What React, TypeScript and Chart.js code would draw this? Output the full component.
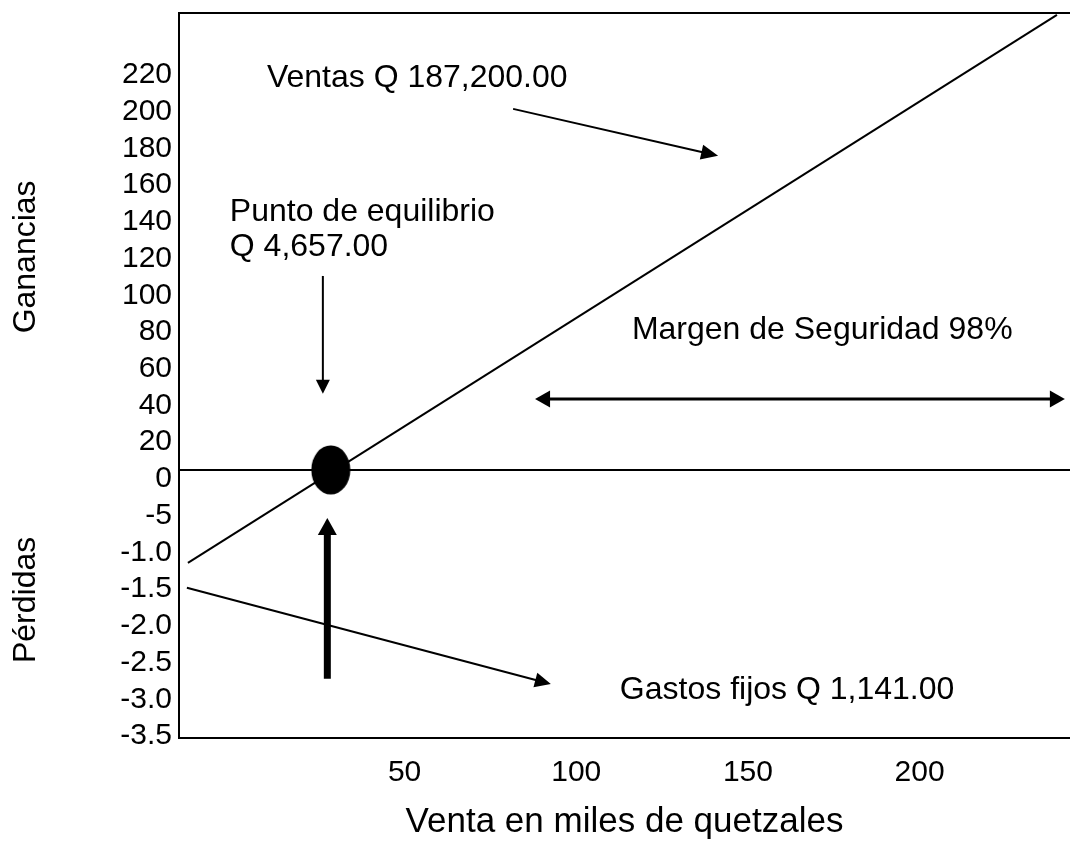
import React, { useEffect, useRef } from "react";
import { Chart, registerables } from "chart.js";

Chart.register(...registerables);

// ---- Data (axis units: x = miles de quetzales, y = index of the y tick label) ----
const yTickLabels = [
  "-3.5", "-3.0", "-2.5", "-2.0", "-1.5", "-1.0", "-5", "0",
  "20", "40", "60", "80", "100", "120", "140", "160", "180", "200", "220",
];
const xTickValues = [50, 100, 150, 200];
const xRange = [-15.7, 243.8];
const yRange = [-0.3, 19.44];

const salesLine = [
  { x: -13.1, y: 4.47 },
  { x: 240.0, y: 19.39 },
];
const zeroLine = [
  { x: -15.7, y: 7 },
  { x: 243.8, y: 7 },
];
const breakEvenPoint = [{ x: 28.5, y: 7 }];

const ventasArrow = [
  { x: 81.6, y: 16.83 },
  { x: 141.3, y: 15.55 },
];
const gastosArrow = [
  { x: -13.4, y: 3.79 },
  { x: 92.6, y: 1.17 },
];
const equilibrioDownArrow = [
  { x: 26.2, y: 12.28 },
  { x: 26.2, y: 9.07 },
];
const equilibrioUpArrow = [
  { x: 27.5, y: 1.31 },
  { x: 27.5, y: 5.69 },
];
const margenArrow = [
  { x: 88.0, y: 8.93 },
  { x: 242.3, y: 8.93 },
];

const noteTexts = [
  "Ventas Q 187,200.00",
  "Punto de equilibrio",
  "Q 4,657.00",
  "Margen de Seguridad 98%",
  "Gastos fijos Q 1,141.00",
];
const noteAnchors = [
  { x: 9.9, y: 17.67 },
  { x: -0.9, y: 14.03 },
  { x: -0.9, y: 13.07 },
  { x: 116.2, y: 10.81 },
  { x: 112.7, y: 1.01 },
];
const sideTitles = ["Ganancias", "Pérdidas"];
const sideTitleY = [12.8, 3.46];
const xTitle = "Venta en miles de quetzales";

const FONT = '"Liberation Sans", Arial, Helvetica, sans-serif';

const arrowPlugin = {
  id: "arrowPlugin",
  afterDatasetsDraw(chart: any) {
    const ctx = chart.ctx;
    chart.data.datasets.forEach((ds: any, i: number) => {
      if (!ds.arrow) return;
      const pts = chart.getDatasetMeta(i).data;
      if (!pts || pts.length < 2) return;
      const a = { x: pts[0].x, y: pts[0].y };
      const b = { x: pts[1].x, y: pts[1].y };
      const { width, len, half, start, end } = ds.arrow;
      const dx = b.x - a.x;
      const dy = b.y - a.y;
      const d = Math.hypot(dx, dy) || 1;
      const ux = dx / d;
      const uy = dy / d;
      const s = start ? { x: a.x + ux * len * 0.8, y: a.y + uy * len * 0.8 } : a;
      const e = end ? { x: b.x - ux * len * 0.8, y: b.y - uy * len * 0.8 } : b;
      ctx.save();
      ctx.strokeStyle = "#000";
      ctx.fillStyle = "#000";
      ctx.lineWidth = width;
      ctx.lineCap = "butt";
      ctx.beginPath();
      ctx.moveTo(s.x, s.y);
      ctx.lineTo(e.x, e.y);
      ctx.stroke();
      const head = (tip: any, vx: number, vy: number) => {
        ctx.beginPath();
        ctx.moveTo(tip.x, tip.y);
        ctx.lineTo(tip.x - vx * len - vy * half, tip.y - vy * len + vx * half);
        ctx.lineTo(tip.x - vx * len + vy * half, tip.y - vy * len - vx * half);
        ctx.closePath();
        ctx.fill();
      };
      if (end) head(b, ux, uy);
      if (start) head(a, -ux, -uy);
      ctx.restore();
    });
  },
};

const textPlugin = {
  id: "textPlugin",
  afterDraw(chart: any) {
    const { ctx, chartArea } = chart;
    const xs = chart.scales.x;
    const ys = chart.scales.y;
    ctx.save();
    // top frame line
    ctx.strokeStyle = "#000";
    ctx.lineWidth = 2;
    ctx.beginPath();
    ctx.moveTo(chartArea.left - 1, chartArea.top);
    ctx.lineTo(chartArea.right, chartArea.top);
    ctx.stroke();

    ctx.fillStyle = "#000";
    ctx.font = `32px ${FONT}`;
    ctx.textAlign = "left";
    ctx.textBaseline = "middle";
    noteTexts.forEach((t, i) => {
      ctx.fillText(t, xs.getPixelForValue(noteAnchors[i].x), ys.getPixelForValue(noteAnchors[i].y));
    });

    ctx.font = `32px ${FONT}`;
    ctx.textAlign = "center";
    sideTitles.forEach((t, i) => {
      ctx.save();
      ctx.translate(26, ys.getPixelForValue(sideTitleY[i]));
      ctx.rotate(-Math.PI / 2);
      ctx.fillText(t, 0, 0);
      ctx.restore();
    });
    ctx.restore();
  },
};

function makeEllipse(w: number, h: number) {
  const c = document.createElement("canvas");
  c.width = w;
  c.height = h;
  const g = c.getContext("2d")!;
  g.fillStyle = "#000";
  g.beginPath();
  g.ellipse(w / 2, h / 2, w / 2 - 0.5, h / 2 - 0.5, 0, 0, Math.PI * 2);
  g.fill();
  return c;
}

export default function App() {
  const canvasRef = useRef<HTMLCanvasElement | null>(null);

  useEffect(() => {
    if (!canvasRef.current) return;
    Chart.defaults.font.family = FONT;
    Chart.defaults.color = "#000";
    const ellipse = makeEllipse(40, 50);

    const lineDs = (data: any[], width: number) => ({
      data,
      showLine: true,
      borderColor: "#000",
      borderWidth: width,
      pointRadius: 0,
      fill: false,
    });
    const arrowDs = (data: any[], arrow: any) => ({
      data,
      showLine: false,
      pointRadius: 0,
      arrow,
    });

    const chart = new Chart(canvasRef.current, {
      type: "scatter",
      data: {
        datasets: [
          lineDs(zeroLine, 2),
          lineDs(salesLine, 2),
          arrowDs(ventasArrow, { width: 2, len: 17, half: 7.5, end: true }),
          arrowDs(gastosArrow, { width: 2, len: 16, half: 7.5, end: true }),
          arrowDs(equilibrioDownArrow, { width: 2, len: 14, half: 7, end: true }),
          arrowDs(equilibrioUpArrow, { width: 7, len: 17, half: 9.5, end: true }),
          arrowDs(margenArrow, { width: 3, len: 15, half: 8.5, start: true, end: true }),
          {
            data: breakEvenPoint,
            showLine: false,
            pointStyle: ellipse,
            pointRadius: 20,
            backgroundColor: "#000",
            borderColor: "#000",
            clip: false,
          },
        ] as any,
      },
      options: {
        animation: false,
        responsive: true,
        maintainAspectRatio: false,
        events: [],
        layout: { autoPadding: false, padding: { top: 13, left: 0, right: 0, bottom: 0 } },
        plugins: {
          legend: { display: false },
          tooltip: { enabled: false },
        },
        scales: {
          x: {
            type: "linear",
            min: xRange[0],
            max: xRange[1],
            afterBuildTicks: (s: any) => {
              s.ticks = xTickValues.map((v) => ({ value: v }));
            },
            afterFit: (s: any) => {
              s.height = 125;
              s.paddingLeft = 0;
              s.paddingRight = 0;
            },
            ticks: {
              autoSkip: false,
              maxRotation: 0,
              padding: 17,
              color: "#000",
              font: { size: 30 },
              callback: (v: any) => String(v),
            },
            grid: { display: false, drawTicks: false, tickLength: 0 },
            border: { display: true, color: "#000", width: 2 },
            title: {
              display: true,
              text: xTitle,
              color: "#000",
              font: { size: 35 },
              padding: { top: 0, bottom: 20 },
            },
          },
          y: {
            type: "linear",
            min: yRange[0],
            max: yRange[1],
            afterBuildTicks: (s: any) => {
              s.ticks = yTickLabels.map((_, i) => ({ value: i }));
            },
            afterFit: (s: any) => {
              s.width = 179;
              s.paddingTop = 0;
              s.paddingBottom = 0;
            },
            ticks: {
              autoSkip: false,
              padding: 7,
              labelOffset: 9,
              color: "#000",
              font: { size: 30 },
              callback: (v: any) => yTickLabels[Math.round(v)] ?? "",
            },
            grid: { display: false, drawTicks: false, tickLength: 0 },
            border: { display: true, color: "#000", width: 2 },
          },
        },
      } as any,
      plugins: [arrowPlugin, textPlugin],
    });

    return () => chart.destroy();
  }, []);

  return (
    <div style={{ position: "fixed", left: 0, top: 0, width: 1070, height: 863, background: "#fff" }}>
      <canvas ref={canvasRef} />
    </div>
  );
}
